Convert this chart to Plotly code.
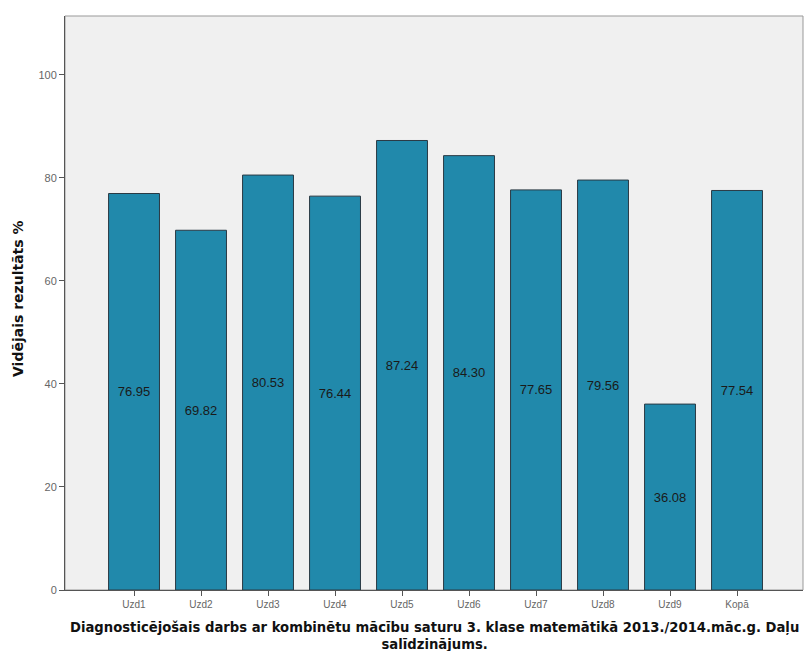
import plotly.graph_objects as go

categories = ["Uzd1", "Uzd2", "Uzd3", "Uzd4", "Uzd5", "Uzd6", "Uzd7", "Uzd8", "Uzd9", "Kopā"]
values = [76.95, 69.82, 80.53, 76.44, 87.24, 84.30, 77.65, 79.56, 36.08, 77.54]
labels = ["76.95", "69.82", "80.53", "76.44", "87.24", "84.30", "77.65", "79.56", "36.08", "77.54"]
yticks = [0, 20, 40, 60, 80, 100]
x_title_lines = ["Diagnosticējošais darbs ar kombinētu mācību saturu 3. klase matemātikā 2013./2014.māc.g. Daļu",
                 "salīdzinājums."]
y_title = "Vidējais rezultāts %"

fig = go.Figure(go.Bar(
    x=categories, y=values, text=labels,
    textposition="inside", insidetextanchor="middle",
    textfont=dict(family="Liberation Sans, Arial", size=13, color="#1a1a1a"),
    textangle=0,
    marker=dict(color="#2189AB", line=dict(color="#2a3a44", width=1)),
    width=0.76,
))

fig.update_layout(
    width=805, height=651,
    margin=dict(l=65, r=2, t=16, b=61),
    paper_bgcolor="white", plot_bgcolor="#F0F0F0",
    showlegend=False,
    font=dict(family="Liberation Sans, Arial"),
    uniformtext=dict(minsize=13, mode="show"),
    shapes=[dict(type="rect", xref="paper", yref="paper", x0=0, y0=0, x1=1, y1=1,
                 line=dict(color="#999", width=1), layer="below")],
)
fig.update_xaxes(
    range=[-1.03, 9.985], showgrid=False,
    ticks="outside", ticklen=5, tickcolor="#555",
    tickfont=dict(size=10, color="#666"),
    showline=True, linecolor="#555", linewidth=1,
)
fig.update_yaxes(
    range=[0, 111.4], tickvals=yticks, showgrid=False, zeroline=False,
    ticks="outside", ticklen=5, tickcolor="#555",
    tickfont=dict(size=11, color="#666"),
    showline=True, linecolor="#555", linewidth=1,
)

fig.add_annotation(text="<br>".join("<b>" + l + "</b>" for l in x_title_lines),
                   xref="paper", yref="paper", x=0.5, y=0,
                   xanchor="center", yanchor="middle", yshift=-46, showarrow=False,
                   font=dict(family="DejaVu Sans", size=13.2, color="#111"))
fig.add_annotation(text="<b>" + y_title + "</b>", xref="paper", yref="paper", x=0, y=0.5,
                   xanchor="center", yanchor="middle", xshift=-47, yshift=4, textangle=-90,
                   showarrow=False, font=dict(family="DejaVu Sans", size=14, color="#111"))

fig.write_html("out.html", config={"displayModeBar": False},
               post_script="document.body.style.margin='0';document.body.style.overflow='hidden';")
